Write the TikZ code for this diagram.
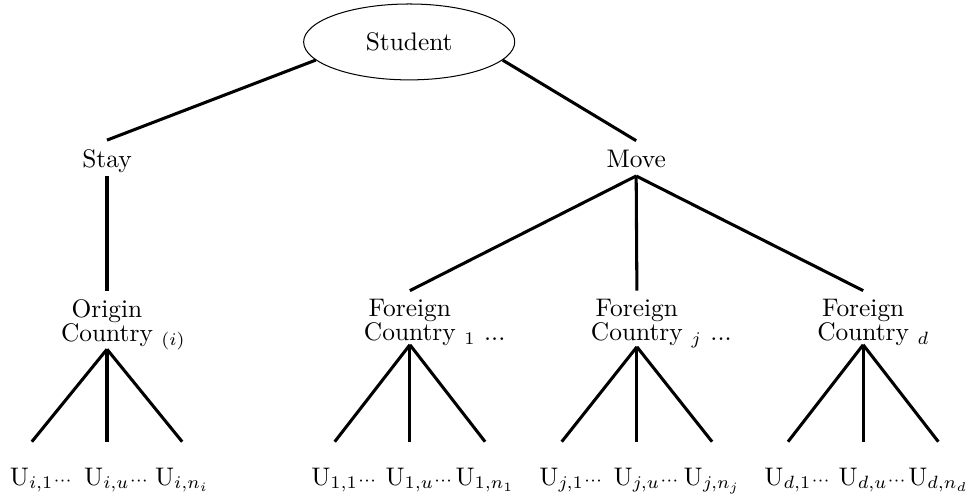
\documentclass[tikz,border=0pt]{standalone}
\usepackage{amsmath}
\usepackage{tikz}
\usetikzlibrary{shapes.geometric}
\usetikzlibrary{positioning}
\tikzstyle{branch}=[very thick]
\tikzstyle{choice}=[text depth=0pt]
\tikzstyle{country}=[align=center, font=\fontsize{10pt}{9.4pt}\selectfont]

\begin{document}
\begin{tikzpicture}
        \useasboundingbox (0,0) rectangle (13.39,-6.92);

        \coordinate (S) at (5.66,-0.58);
        \coordinate (St) at (1.48,-2.31);
        \coordinate (Mv) at (8.80,-2.31);

        \node [ellipse, draw, minimum width=2.92cm, minimum height=1.05cm] (student) at (S) {Student};
        \node [choice, anchor=base] (stay) at (St) {Stay};
        \node [choice, anchor=base] (move) at (Mv) {Move};

        \node [country, anchor=north] (orig) at (1.48,-4.02) {Origin\\Country\rlap{ $_{(i)}$}};
        \node [country, anchor=north] (for1) at (5.67,-4.02) {Foreign\\Country\rlap{ $_{1}$ ...}};
        \node [country, anchor=north] (forj) at (8.81,-4.02) {Foreign\\Country\rlap{ $_{j}$ ...}};
        \node [country, anchor=north] (ford) at (11.94,-4.02) {Foreign\\Country\rlap{ $_{d}$}};

        \draw [branch] (student.191) -- (stay.north);
        \draw [branch] (student.349) -- (move.north);
        \draw [branch] (stay.south) -- (orig.north);
        \draw [branch] (move.south) -- (for1.north);
        \draw [branch] (move.south) -- (forj.north);
        \draw [branch] (move.south) -- (ford.north);

        % legs and the universities below each country
        \foreach \g/\x/\s/\n in {orig/1.48/i/n_i, for1/5.67/1/n_1, forj/8.81/j/n_j, ford/11.94/d/n_d} {
            \coordinate (\g-1) at (\x-1.04,-6.11);
            \coordinate (\g-u) at (\x,-6.11);
            \coordinate (\g-n) at (\x+1.04,-6.11);

            \draw [branch] ([yshift=4pt]\g.south) -- (\g-1);
            \draw [branch] ([yshift=4pt]\g.south) -- (\g-u);
            \draw [branch] ([yshift=4pt]\g.south) -- (\g-n);

            \node [anchor=base] (\g-l1) at (\x-1.04,-6.71) {U$_{\s,1}$\rlap{$\scriptstyle\cdots$}};
            \node [anchor=base] (\g-lu) at (\x,-6.71) {U$_{\s,u}$\rlap{$\scriptstyle\cdots$}};
            \node [anchor=base] (\g-ln) at (\x+1.04,-6.71) {U$_{\s,\n}$};
        }
    \end{tikzpicture}
\end{document}
